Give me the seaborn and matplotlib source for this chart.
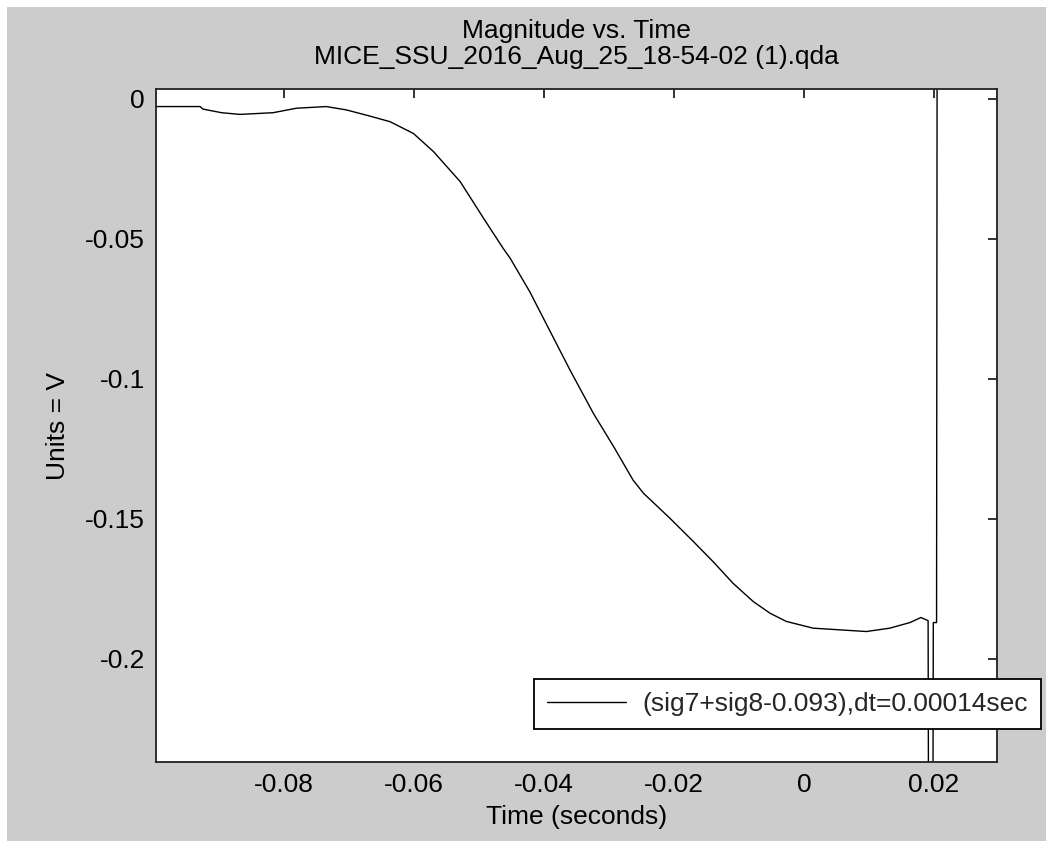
import matplotlib
matplotlib.use("Agg")
import matplotlib.pyplot as plt
from matplotlib.patches import Rectangle
import seaborn as sns
import pandas as pd

# ---- data ----
time_s = [-0.0997, -0.0929, -0.0925, -0.0896, -0.0868, -0.0817, -0.0781, -0.0735,
          -0.0704, -0.0668, -0.0637, -0.0601, -0.0570, -0.0529, -0.0493, -0.0463,
          -0.0452, -0.0422, -0.0391, -0.0360, -0.0324, -0.0293, -0.0263, -0.0247,
          -0.0206, -0.0170, -0.0140, -0.0109, -0.0078, -0.0052, -0.0027, 0.0014,
          0.0055, 0.0096, 0.0132, 0.0163, 0.0180, 0.0191, 0.0192, 0.0198,
          0.0199, 0.0204, 0.0205, 0.0297]
volts = [-0.0027, -0.0027, -0.0036, -0.0049, -0.0055, -0.0049, -0.0033, -0.0027,
         -0.0039, -0.0061, -0.0081, -0.0123, -0.0188, -0.0295, -0.0426, -0.0533,
         -0.0569, -0.0688, -0.0828, -0.0968, -0.1123, -0.1241, -0.1361, -0.1408,
         -0.1498, -0.1581, -0.1652, -0.1730, -0.1795, -0.1837, -0.1866, -0.1890,
         -0.1896, -0.1902, -0.1890, -0.1870, -0.1852, -0.1863, -0.30, -0.30,
         -0.187, -0.187, 0.05, 0.05]
x_ticks = [-0.08, -0.06, -0.04, -0.02, 0, 0.02]
x_tick_labels = ["-0.08", "-0.06", "-0.04", "-0.02", "0", "0.02"]
y_ticks = [0, -0.05, -0.1, -0.15, -0.2]
y_tick_labels = ["0", "-0.05", "-0.1", "-0.15", "-0.2"]
series_label = "(sig7+sig8-0.093),dt=0.00014sec"
title_text = "Magnitude vs. Time\nMICE_SSU_2016_Aug_25_18-54-02 (1).qda"

df = pd.DataFrame({"Time": time_s, "Volts": volts})

sns.set_style("white")
plt.rcParams["font.family"] = ["Liberation Sans", "DejaVu Sans"]
FS = 19

fig = plt.figure(figsize=(10.46, 8.41), dpi=100)
fig.patch.set_facecolor("#cccccc")
# thin white strips along the top and left edges
fig.add_artist(Rectangle((0, 1 - 7 / 841), 1, 7 / 841, transform=fig.transFigure,
                         facecolor="white", edgecolor="none", zorder=-10))
fig.add_artist(Rectangle((0, 0), 7 / 1046, 1, transform=fig.transFigure,
                         facecolor="white", edgecolor="none", zorder=-10))

ax = fig.add_axes([156 / 1046, 1 - 762 / 841, (997 - 156) / 1046, (762 - 89) / 841])
ax.set_facecolor("white")

sns.lineplot(data=df, x="Time", y="Volts", ax=ax, color="black", linewidth=1.0,
             sort=False, estimator=None, label=series_label)

ax.set_xlim(-0.0997, 0.0297)
ax.set_ylim(-0.2368, 0.00357)
ax.set_xticks(x_ticks)
ax.set_xticklabels(x_tick_labels)
ax.set_yticks(y_ticks)
ax.set_yticklabels(y_tick_labels)

for s in ax.spines.values():
    s.set_visible(True)
    s.set_color("#222222")
    s.set_linewidth(1.3)

ax.tick_params(axis="both", direction="in", length=6.5, width=1.3, color="#222222",
               labelsize=FS, labelcolor="black", top=True, right=True)
ax.tick_params(axis="x", pad=8)
ax.tick_params(axis="y", pad=8)

ax.set_xlabel("Time (seconds)", fontsize=FS, color="black", labelpad=6)
ax.set_ylabel("Units = V", fontsize=FS, color="black", labelpad=11)
ax.set_title(title_text, fontsize=FS, color="black", pad=18, linespacing=1.12)

leg = ax.legend(loc="lower right", bbox_to_anchor=(1041 / 1046, 1 - 729 / 841),
                bbox_transform=fig.transFigure, borderaxespad=0, fontsize=FS,
                frameon=True, fancybox=False, handlelength=3.0, handletextpad=0.6,
                borderpad=0.5)
leg.get_frame().set_edgecolor("black")
leg.get_frame().set_linewidth(1.3)
leg.get_frame().set_facecolor("white")
leg.get_frame().set_alpha(1)

fig.savefig("out.png", dpi=100, facecolor=fig.get_facecolor())
